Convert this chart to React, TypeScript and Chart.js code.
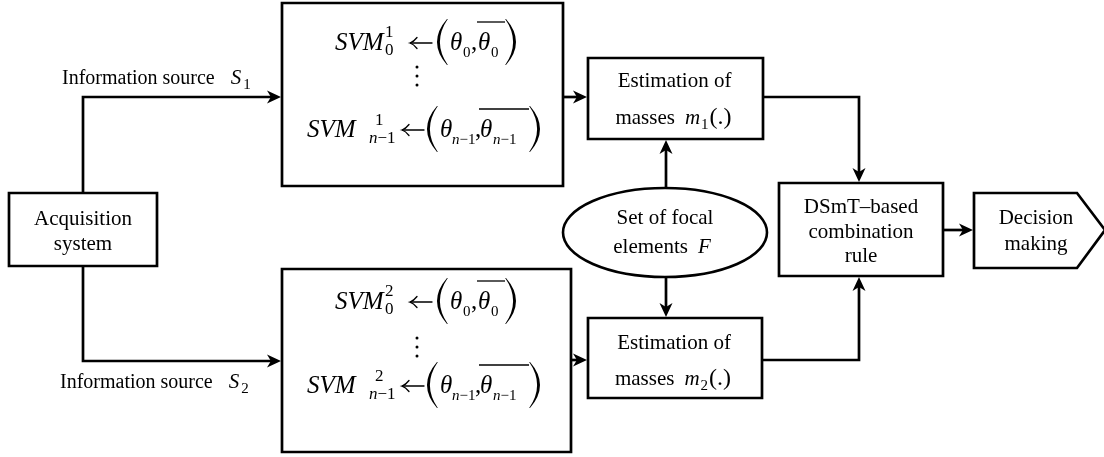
import React, { useEffect, useRef } from "react";
import { Chart, registerables } from "chart.js";

Chart.register(...registerables);

const WIDTH = 1104;
const HEIGHT = 457;

// ---- Text content ----
const acquisitionLines = ["Acquisition", "system"];
const estimationLines = ["Estimation of", "masses"];
const massSymbol = "m";
const massIndices = ["1", "2"];
const focalLines = ["Set of focal", "elements"];
const focalSymbol = "F";
const combinationLines = ["DSmT–based", "combination", "rule"];
const decisionLines = ["Decision", "making"];
const sourceText = "Information source";
const sourceSymbol = "S";
const sourceIndices = ["1", "2"];
const svmName = "SVM";
const svmIndices = ["1", "2"];
const thetaSymbol = "θ";

// ---- Diagram geometry (diagram units) ----
// boxes: acquisition, svm bank 1, svm bank 2, estimation 1, estimation 2, combination
const boxLeft = [9, 282, 282, 588, 588, 779];
const boxTop = [193, 3, 269, 58, 318, 183];
const boxRight = [157, 563, 571, 763, 762, 943];
const boxBottom = [266, 186, 452, 139, 398, 276];
const decisionPathX = [974, 1077, 1105, 1077, 974, 974];
const decisionPathY = [193, 193, 230, 268, 268, 193];
const focalEllipse = [665, 232.5, 102, 44.5];
const connectorPathsX = [
  [83, 83, 281],
  [83, 83, 281],
  [563, 587],
  [571, 587],
  [666, 666],
  [666, 666],
  [763, 859, 859],
  [762, 859, 859],
  [943, 973],
];
const connectorPathsY = [
  [193, 97, 97],
  [266, 361, 361],
  [97, 97],
  [360, 360],
  [188, 140],
  [277, 317],
  [97, 97, 182],
  [360, 360, 277],
  [230, 230],
];

const SERIF = '"Liberation Serif", "Times New Roman", Times, serif';
const INK = "#000";

function setFont(ctx: CanvasRenderingContext2D, size: number, italic = false) {
  ctx.font = `${italic ? "italic " : ""}${size}px ${SERIF}`;
}

type Run = { s: string; size: number; italic?: boolean; dy?: number; gap?: number };

function drawRuns(ctx: CanvasRenderingContext2D, runs: Run[], x: number, y: number, align: "left" | "center") {
  let total = 0;
  const widths = runs.map((r) => {
    setFont(ctx, r.size, r.italic);
    const w = ctx.measureText(r.s).width;
    total += w + (r.gap || 0);
    return w;
  });
  let cx = align === "center" ? x - total / 2 : x;
  ctx.textAlign = "left";
  ctx.textBaseline = "alphabetic";
  runs.forEach((r, i) => {
    cx += r.gap || 0;
    setFont(ctx, r.size, r.italic);
    ctx.fillText(r.s, cx, y + (r.dy || 0));
    cx += widths[i];
  });
}

function centerText(ctx: CanvasRenderingContext2D, s: string, x: number, y: number, size: number) {
  setFont(ctx, size);
  ctx.textAlign = "center";
  ctx.textBaseline = "alphabetic";
  ctx.fillText(s, x, y);
}

function arrowHead(ctx: CanvasRenderingContext2D, tx: number, ty: number, dx: number, dy: number) {
  const L = 14;
  const W = 6.5;
  const nx = -dy;
  const ny = dx;
  ctx.beginPath();
  ctx.moveTo(tx, ty);
  ctx.lineTo(tx - L * dx + W * nx, ty - L * dy + W * ny);
  ctx.lineTo(tx - 0.72 * L * dx, ty - 0.72 * L * dy);
  ctx.lineTo(tx - L * dx - W * nx, ty - L * dy - W * ny);
  ctx.closePath();
  ctx.fill();
}

function bigParen(ctx: CanvasRenderingContext2D, x1: number, x2: number, top: number, bot: number, left: boolean) {
  const mid = (top + bot) / 2;
  ctx.beginPath();
  if (left) {
    const outer = 2 * x1 - x2;
    const inner = 2 * (x1 + 2.9) - (x2 + 0.8);
    ctx.moveTo(x2, top);
    ctx.quadraticCurveTo(outer, mid, x2, bot);
    ctx.lineTo(x2 + 0.8, bot);
    ctx.quadraticCurveTo(inner, mid, x2 + 0.8, top);
  } else {
    const outer = 2 * x2 - x1;
    const inner = 2 * (x2 - 2.9) - (x1 - 0.8);
    ctx.moveTo(x1, top);
    ctx.quadraticCurveTo(outer, mid, x1, bot);
    ctx.lineTo(x1 - 0.8, bot);
    ctx.quadraticCurveTo(inner, mid, x1 - 0.8, top);
  }
  ctx.closePath();
  ctx.fill();
}

function leftArrow(ctx: CanvasRenderingContext2D, x1: number, x2: number, y: number) {
  ctx.save();
  ctx.lineWidth = 1.3;
  ctx.lineCap = "round";
  ctx.beginPath();
  ctx.moveTo(x1 + 0.5, y);
  ctx.lineTo(x2, y);
  ctx.stroke();
  ctx.beginPath();
  ctx.moveTo(x1 + 7, y - 5.5);
  ctx.quadraticCurveTo(x1 + 3.5, y - 1, x1, y);
  ctx.quadraticCurveTo(x1 + 3.5, y + 1, x1 + 7, y + 5.5);
  ctx.stroke();
  ctx.restore();
}

function subN1(ctx: CanvasRenderingContext2D, x: number, y: number, size: number) {
  drawRuns(ctx, [
    { s: "n", size, italic: true },
    { s: "−1", size },
  ], x, y, "left");
}

function svmLine(ctx: CanvasRenderingContext2D, x0: number, by: number, sup: string, last: boolean) {
  ctx.textAlign = "left";
  ctx.textBaseline = "alphabetic";
  setFont(ctx, 25, true);
  ctx.fillText(svmName, x0, by);
  setFont(ctx, 17);
  if (!last) {
    ctx.fillText(sup, x0 + 50, by - 13);
    ctx.fillText("0", x0 + 50, by + 5);
  } else {
    ctx.fillText(sup, x0 + 68, by - 12);
    subN1(ctx, x0 + 62, by + 6, 17);
  }
  const o = last
    ? { a1: 95, a2: 117, p: 120, th: 133, s1: 145, c: 168, th2: 173, s2: 186, rp: 223 }
    : { a1: 75, a2: 97, p: 102, th: 115, s1: 128, c: 136, th2: 143, s2: 156, rp: 171 };
  leftArrow(ctx, x0 + o.a1, x0 + o.a2, by - 7);
  bigParen(ctx, x0 + o.p, x0 + o.p + 10, by - 31, by + 15, true);
  setFont(ctx, 25, true);
  ctx.textAlign = "left";
  ctx.fillText(thetaSymbol, x0 + o.th, by);
  ctx.fillText(thetaSymbol, x0 + o.th2, by);
  setFont(ctx, 25);
  ctx.fillText(",", x0 + o.c, by);
  if (last) {
    subN1(ctx, x0 + o.s1, by + 7, 15);
    subN1(ctx, x0 + o.s2, by + 7, 15);
  } else {
    setFont(ctx, 15);
    ctx.fillText("0", x0 + o.s1, by + 7);
    ctx.fillText("0", x0 + o.s2, by + 7);
  }
  ctx.save();
  ctx.lineWidth = 1.3;
  ctx.beginPath();
  ctx.moveTo(x0 + o.th2 - 1, by - 28);
  ctx.lineTo(x0 + o.rp - 1, by - 28);
  ctx.stroke();
  ctx.restore();
  bigParen(ctx, x0 + o.rp, x0 + o.rp + 10, by - 31, by + 15, false);
}

function vdots(ctx: CanvasRenderingContext2D, x: number, ys: number[]) {
  ys.forEach((y) => {
    ctx.beginPath();
    ctx.arc(x, y, 1.5, 0, Math.PI * 2);
    ctx.fill();
  });
}

const diagramPlugin = {
  id: "diagram",
  afterDatasetsDraw(chart: any) {
    const ctx: CanvasRenderingContext2D = chart.ctx;
    const xs = chart.scales.x;
    const ys = chart.scales.y;
    const px = (v: number) => xs.getPixelForValue(v);
    const py = (v: number) => ys.getPixelForValue(v);
    ctx.save();
    ctx.fillStyle = INK;
    ctx.strokeStyle = INK;

    // connectors with arrowheads
    ctx.lineWidth = 2.7;
    ctx.lineJoin = "miter";
    ctx.lineCap = "butt";
    connectorPathsX.forEach((xsArr, i) => {
      const pts = xsArr.map((x, j) => [px(x), py(connectorPathsY[i][j])]);
      const n = pts.length;
      const [tx, ty] = pts[n - 1];
      const [sx, sy] = pts[n - 2];
      const len = Math.hypot(tx - sx, ty - sy);
      const dx = (tx - sx) / len;
      const dy = (ty - sy) / len;
      ctx.beginPath();
      ctx.moveTo(pts[0][0], pts[0][1]);
      for (let j = 1; j < n - 1; j++) ctx.lineTo(pts[j][0], pts[j][1]);
      ctx.lineTo(tx - dx * 9, ty - dy * 9);
      ctx.stroke();
      arrowHead(ctx, tx, ty, dx, dy);
    });

    // focal elements ellipse
    ctx.lineWidth = 2.6;
    ctx.beginPath();
    ctx.ellipse(
      px(focalEllipse[0]),
      py(focalEllipse[1]),
      px(focalEllipse[0] + focalEllipse[2]) - px(focalEllipse[0]),
      Math.abs(py(focalEllipse[1] + focalEllipse[3]) - py(focalEllipse[1])),
      0,
      0,
      Math.PI * 2
    );
    ctx.stroke();

    // plain texts
    const bx = (i: number) => (px(boxLeft[i]) + px(boxRight[i])) / 2;
    centerText(ctx, acquisitionLines[0], bx(0), py(225), 21);
    centerText(ctx, acquisitionLines[1], bx(0), py(250), 21);

    [3, 4].forEach((bi, k) => {
      const top = py(boxTop[bi]);
      centerText(ctx, estimationLines[0], bx(bi) - 1, top + (k === 0 ? 29 : 31), 21);
      drawRuns(ctx, [
        { s: estimationLines[1], size: 21 },
        { s: massSymbol, size: 21, italic: true, gap: 10 },
        { s: massIndices[k], size: 15, dy: 5, gap: 1 },
        { s: "(.)", size: 24, gap: 1 },
      ], bx(bi) - 2, top + (k === 0 ? 66 : 67), "center");
    });

    const fx = px(focalEllipse[0]);
    centerText(ctx, focalLines[0], fx, py(224), 21);
    drawRuns(ctx, [
      { s: focalLines[1], size: 21 },
      { s: focalSymbol, size: 21, italic: true, gap: 10 },
    ], fx - 3, py(253), "center");

    centerText(ctx, combinationLines[0], bx(5), py(213), 21);
    centerText(ctx, combinationLines[1], bx(5), py(238), 21);
    centerText(ctx, combinationLines[2], bx(5), py(262), 21);

    centerText(ctx, decisionLines[0], px(1036), py(224), 21);
    centerText(ctx, decisionLines[1], px(1036), py(250), 21);

    drawRuns(ctx, [
      { s: sourceText, size: 20 },
      { s: sourceSymbol, size: 21, italic: true, gap: 16 },
      { s: sourceIndices[0], size: 15, dy: 5, gap: 2 },
    ], px(62), py(84), "left");
    drawRuns(ctx, [
      { s: sourceText, size: 20 },
      { s: sourceSymbol, size: 21, italic: true, gap: 16 },
      { s: sourceIndices[1], size: 15, dy: 5, gap: 2 },
    ], px(60), py(388), "left");

    // SVM banks
    [1, 2].forEach((bi, k) => {
      const left = px(boxLeft[bi]);
      const top = py(boxTop[bi]);
      const base1 = k === 0 ? 47 : 40;
      const base2 = k === 0 ? 134 : 124;
      svmLine(ctx, left + 53, top + base1, svmIndices[k], false);
      const dotTop = k === 0 ? 64 : 69;
      vdots(ctx, left + 135, [top + dotTop, top + dotTop + 9, top + dotTop + 18]);
      svmLine(ctx, left + 25, top + base2, svmIndices[k], true);
    });

    ctx.restore();
  },
};

const lineStyle = {
  showLine: true,
  borderColor: INK,
  borderWidth: 2.7,
  pointRadius: 0,
  pointHoverRadius: 0,
  fill: false,
  tension: 0,
  borderCapStyle: "square",
  borderJoinStyle: "miter",
  clip: false,
};

export default function App() {
  const ref = useRef<HTMLCanvasElement>(null);
  useEffect(() => {
    const canvas = ref.current!;
    const datasets: any[] = [];
    for (let i = 0; i < boxLeft.length; i++) {
      datasets.push({
        data: [
          { x: boxLeft[i], y: boxTop[i] },
          { x: boxRight[i], y: boxTop[i] },
          { x: boxRight[i], y: boxBottom[i] },
          { x: boxLeft[i], y: boxBottom[i] },
          { x: boxLeft[i], y: boxTop[i] },
        ],
        ...lineStyle,
      });
    }
    datasets.push({
      data: decisionPathX.map((x, i) => ({ x, y: decisionPathY[i] })),
      ...lineStyle,
    });
    const chart = new Chart(canvas, {
      type: "scatter",
      data: { datasets },
      options: {
        responsive: false,
        animation: false,
        devicePixelRatio: 1,
        events: [],
        layout: { padding: 0 },
        plugins: { legend: { display: false }, tooltip: { enabled: false } },
        scales: {
          x: { type: "linear", min: 0, max: WIDTH, display: false },
          y: { type: "linear", min: 0, max: HEIGHT, reverse: true, display: false },
        },
      } as any,
      plugins: [diagramPlugin],
    });
    return () => chart.destroy();
  }, []);
  return (
    <div style={{ position: "absolute", left: 0, top: 0, width: WIDTH, height: HEIGHT, background: "#fff" }}>
      <canvas ref={ref} width={WIDTH} height={HEIGHT} style={{ display: "block" }} />
    </div>
  );
}
